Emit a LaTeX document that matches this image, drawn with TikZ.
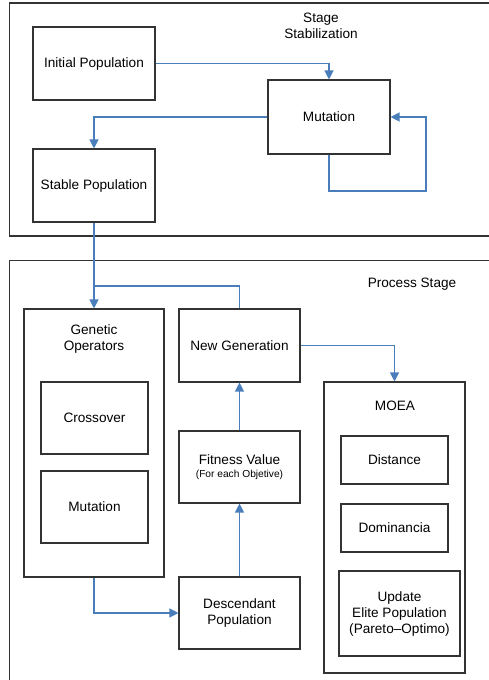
\documentclass[tikz,border=0pt]{standalone}
\usepackage{fontspec}
\setmainfont{Liberation Sans}
\usetikzlibrary{arrows.meta}
\definecolor{flowblue}{HTML}{4A7EBB}
\definecolor{edge}{HTML}{333333}
\begin{document}
\begin{tikzpicture}[x=1pt,y=-1pt,
  font=\fontsize{13.6}{16}\selectfont,
  stagebox/.style={draw=edge,line width=1.1pt},
  box/.style={draw=edge,line width=1.1pt,align=center,inner sep=0pt},
  flow/.style={draw=flowblue,line width=1.2pt},
  arr/.style={flow,-{Triangle[width=9pt,length=9pt]}},
  lbl/.style={align=center,inner sep=0pt}]
\useasboundingbox (0,0) rectangle (489,680);
\clip (0,0) rectangle (489,680);

% stage frames
\draw[stagebox] (9.5,3) rectangle (500,236);
\draw[stagebox] (9.5,260.5) rectangle (500,700);
\node[lbl] (stagestab) at (321,26) {Stage\\Stabilization};
\node[lbl] (procstage) at (412,284) {Process Stage};

% stabilization stage
\node[box,minimum width=122,minimum height=73] (init) at (94,63.5) {Initial Population};
\node[box,minimum width=122,minimum height=74] (mut) at (329,117) {Mutation};
\node[box,minimum width=122,minimum height=73] (stable) at (94,185.5) {Stable Population};

% process stage
\node[box,minimum width=140,minimum height=268] (gen) at (94,443) {};
\node[lbl] (gentext) at (94,339) {Genetic\\Operators};
\node[box,minimum width=107,minimum height=72] (cross) at (94.5,418) {Crossover};
\node[box,minimum width=107,minimum height=72] (mut2) at (94.5,507) {Mutation};

\node[box,minimum width=121,minimum height=73] (newgen) at (239.5,345.5) {New Generation};
\node[box,minimum width=121,minimum height=72] (fit) at (239.5,467)
  {Fitness Value\\[-3pt]{\fontsize{10.2}{12}\selectfont (For each Objetive)}};
\node[box,minimum width=121,minimum height=72] (desc) at (239.5,613) {Descendant\\Population};

\node[box,minimum width=141,minimum height=291] (moea) at (394.5,527.5) {};
\node[lbl] (moeatext) at (395,406) {MOEA};
\node[box,minimum width=107,minimum height=48] (dist) at (394.5,460) {Distance};
\node[box,minimum width=107,minimum height=48] (dom) at (394.5,528) {Dominancia};
\node[box,minimum width=121,minimum height=85] (upd) at (399.5,613.5)
  {Update\\Elite Population\\(Pareto–Optimo)};

% connectors
\coordinate (loopcorner) at (426,191);
\coordinate (join) at (94,286);
\draw[arr] (init.east) -| (mut.north);
\draw[arr] (mut.west) -| (stable.north);
\draw[arr] (mut.south) |- (loopcorner) |- (mut.east);
\draw[arr] (stable.south) -- (gen.north);
\draw[flow] (newgen.north) |- (join);
\draw[arr] (newgen.east) -| (moea.north);
\draw[arr] (gen.south) |- (desc.west);
\draw[arr] (desc.north) -- (fit.south);
\draw[arr] (fit.north) -- (newgen.south);
\end{tikzpicture}
\end{document}
